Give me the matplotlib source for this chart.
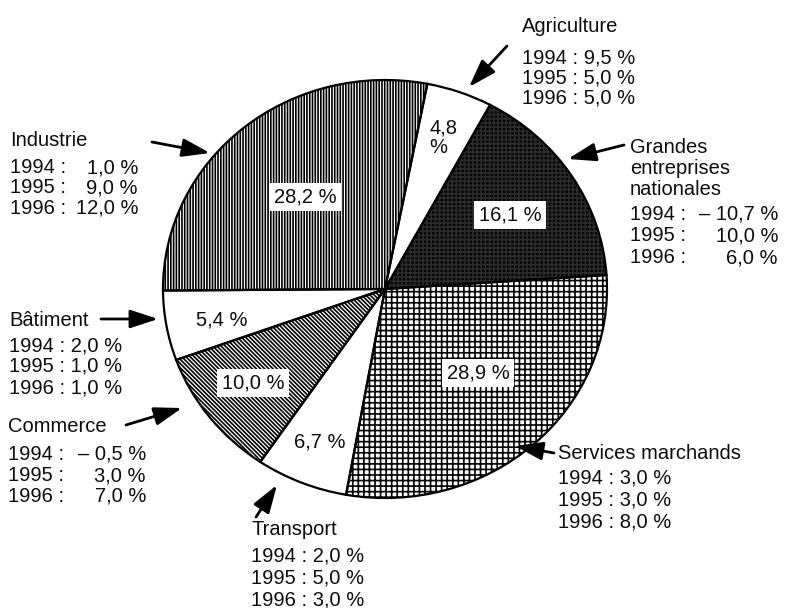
import matplotlib
matplotlib.use("Agg")
import matplotlib.pyplot as plt

plt.rcParams['font.family'] = ['Liberation Sans', 'DejaVu Sans']
plt.rcParams['hatch.linewidth'] = 1.2

# ---------------- data ----------------
sectors = ["Agriculture", "Grandes\nentreprises\nnationales", "Services marchands",
           "Transport", "Commerce", "Bâtiment", "Industrie"]
shares = [4.8, 16.1, 28.9, 6.7, 10.0, 5.4, 28.2]
growth_1994 = [9.5, -10.7, 3.0, 2.0, -0.5, 2.0, 1.0]
growth_1995 = [5.0, 10.0, 3.0, 5.0, 3.0, 1.0, 9.0]
growth_1996 = [5.0, 6.0, 8.0, 3.0, 7.0, 1.0, 12.0]
years = ["1994", "1995", "1996"]

# ---------------- styles ----------------
faces = ['white', '#050505', 'white', 'white', 'white', 'white', 'white']
hatch_cols = ['black', '#2c2c2c', 'black', 'black', 'black', 'black', 'black']
hatches = ['', '+' * 4, '+' * 3, '', '\\' * 8, '', '|' * 6]
FS = 14.5
TXT = '#0d0d0d'


def fmt(v):
    s = f"{abs(v):.1f}".replace('.', ',') + " %"
    return ("– " + s) if v < 0 else s


W, H = 806, 608
fig = plt.figure(figsize=(W / 100, H / 100), dpi=100)

# pie axes (slightly elliptical like the reference)
cx, cy, rx, ry = 385, 289, 222, 209
pax = fig.add_axes([(cx - rx) / W, (H - cy - ry) / H, 2 * rx / W, 2 * ry / H])
wedges, _ = pax.pie(shares, startangle=79, counterclock=False, radius=1,
                    colors=faces, wedgeprops=dict(linewidth=0))
for w, h, hc in zip(wedges, hatches, hatch_cols):
    w.set_hatch(h)
    w.set_edgecolor(hc)
    w.set_linewidth(0)
    w.set_clip_on(False)
outl, _ = pax.pie(shares, startangle=79, counterclock=False, radius=1,
                  colors=['none'] * len(shares),
                  wedgeprops=dict(edgecolor='black', linewidth=1.6))
for w in outl:
    w.set_clip_on(False)
pax.set_aspect('auto')
pax.set_xlim(-1, 1)
pax.set_ylim(-1, 1)
pax.axis('off')

# overlay axes in pixel coordinates for texts and arrows
tax = fig.add_axes([0, 0, 1, 1])
tax.set_xlim(0, W)
tax.set_ylim(H, 0)
tax.axis('off')

# inside share labels
inner_pos = [(443, 138), (510, 215), (478, 373), (320, 442), (253, 383), (222, 320), (305, 197)]
boxed = [False, True, True, False, True, False, True]
for i, (v, (x, y), b) in enumerate(zip(shares, inner_pos, boxed)):
    s = fmt(v)
    if i == 0:
        s = s.replace(" %", "\n%")
    kw = dict(ha='center', va='center', fontsize=FS, color=TXT, linespacing=1.05,
              multialignment='left')
    if b:
        kw['bbox'] = dict(boxstyle='square,pad=0.22', facecolor='white', edgecolor='none')
    tax.text(x, y, s, **kw)

# outside blocks: x, title baselines, value baselines, right edge (None -> single string)
layout = [
    dict(x=522, tb=[32], vb=[63, 83, 104], xr=None, arrow=((507, 46), (469, 87))),
    dict(x=630, tb=[153, 174, 195], vb=[220, 241, 263], xr=778, arrow=((624, 145), (568, 159))),
    dict(x=558, tb=[459], vb=[484, 506, 527], xr=None, arrow=((554, 453), (515, 446))),
    dict(x=251, tb=[535], vb=[562, 584, 605], xr=None, arrow=((256, 517), (277, 485))),
    dict(x=8, tb=[432], vb=[460, 481, 502], xr=146, arrow=((126, 425), (182, 408))),
    dict(x=9, tb=[326], vb=[351, 372, 393], xr=None, arrow=((101, 319), (158, 319))),
    dict(x=10, tb=[146], vb=[173, 193, 214], xr=138, arrow=((152, 142), (210, 153))),
]

for i, name in enumerate(sectors):
    L = layout[i]
    for line, yb in zip(name.split("\n"), L['tb']):
        tax.text(L['x'], yb, line, ha='left', va='baseline', fontsize=FS, color=TXT)
    vals = [growth_1994[i], growth_1995[i], growth_1996[i]]
    for yr, v, yb in zip(years, vals, L['vb']):
        if L['xr'] is None:
            tax.text(L['x'], yb, f"{yr} : {fmt(v)}", ha='left', va='baseline',
                     fontsize=FS, color=TXT)
        else:
            tax.text(L['x'], yb, f"{yr} :", ha='left', va='baseline', fontsize=FS, color=TXT)
            tax.text(L['xr'], yb, fmt(v), ha='right', va='baseline', fontsize=FS, color=TXT)
    tail, tip = L['arrow']
    tax.annotate('', xy=tip, xytext=tail,
                 arrowprops=dict(arrowstyle='-|>,head_length=0.85,head_width=0.28',
                                 color='black', lw=2.0, shrinkA=0, shrinkB=0,
                                 mutation_scale=20))

fig.savefig("out.png", dpi=100, facecolor='white')
